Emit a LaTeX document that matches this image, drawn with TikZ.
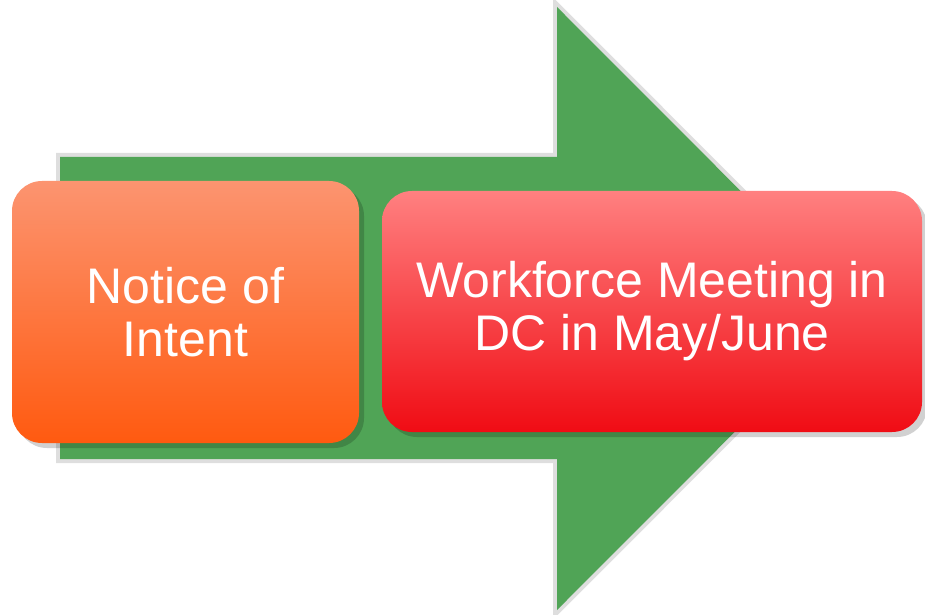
\documentclass[tikz,border=0pt]{standalone}
\usepackage{fontspec}
\setmainfont{Liberation Sans}
\usetikzlibrary{shadows}
\definecolor{arrowgreen}{RGB}{80,164,86}
\definecolor{halo}{RGB}{222,222,222}
\definecolor{orangetop}{RGB}{252,148,112}
\definecolor{orangebot}{RGB}{255,90,16}
\definecolor{redtop}{RGB}{255,128,128}
\definecolor{redbot}{RGB}{240,12,20}
\tikzset{
  stagebox/.style={rounded corners=30pt, inner sep=0pt, align=center,
    text=white, font=\fontsize{50}{53}\selectfont,
    drop shadow={shadow xshift=5pt, shadow yshift=-5pt, fill=black, opacity=0.18}},
  arrowbody/.style={fill=arrowgreen},
  arrowhalo/.style={draw=halo, line width=8pt, line join=miter}
}
\begin{document}
\begin{tikzpicture}[x=1pt,y=1pt]
\useasboundingbox (0,0) rectangle (925,614);
% halo and arrow
\draw[arrowhalo] (60,457) -- (557,457) -- (557,607) -- (858,305.5) -- (557,4) -- (557,155) -- (60,155) -- cycle;
\fill[arrowbody] (60,457) -- (557,457) -- (557,607) -- (858,305.5) -- (557,4) -- (557,155) -- (60,155) -- cycle;
% boxes
\node[stagebox, minimum width=347pt, minimum height=262pt,
  top color=orangetop, bottom color=orangebot] (notice) at (185.5,302) {Notice of\\Intent};
\node[stagebox, minimum width=540pt, minimum height=241pt,
  top color=redtop, bottom color=redbot] (meeting) at (652,302.5) {Workforce Meeting in\\DC in May/June};
\end{tikzpicture}
\end{document}
